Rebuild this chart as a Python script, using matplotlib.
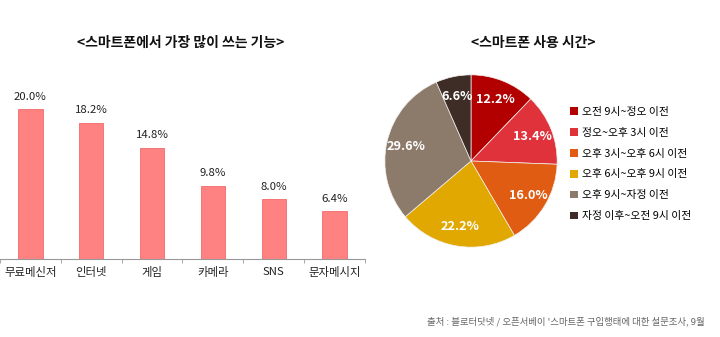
import matplotlib
matplotlib.use("Agg")
import matplotlib.pyplot as plt
from matplotlib.patches import Patch

plt.rcParams["font.family"] = ["Noto Sans CJK KR", "DejaVu Sans"]

# most used smartphone features (%)
features = ["무료메신저", "인터넷", "게임", "카메라", "SNS", "문자메시지"]
feature_share = [20.0, 18.2, 14.8, 9.8, 8.0, 6.4]

# smartphone usage time of day (%)
time_slots = [
    "오전 9시~정오 이전",
    "정오~오후 3시 이전",
    "오후 3시~오후 6시 이전",
    "오후 6시~오후 9시 이전",
    "오후 9시~자정 이전",
    "자정 이후~오전 9시 이전",
]
time_share = [12.2, 13.4, 16.0, 22.2, 29.6, 6.6]
time_colors = ["#B20000", "#E0323A", "#E05C12", "#E0A800", "#8C7B6B", "#3E2D27"]

W, H = 720, 337
fig = plt.figure(figsize=(W / 100, H / 100), dpi=100)


def px_axes(left, top, width, height):
    return fig.add_axes([left / W, 1 - (top + height) / H, width / W, height / H])


# bar chart
ax = px_axes(0, 71.5, 365, 187.5)
x = range(len(features))
ax.bar(x, feature_share, width=0.4, color="#FF8282", edgecolor="#F26B6B", linewidth=0.6)
for xi, v in zip(x, feature_share):
    ax.text(xi, v + 1.0, f"{v:.1f}%", ha="center", va="bottom", fontsize=8.2, color="#222222")
ax.set_xlim(-0.5, len(features) - 0.5)
ax.set_ylim(0, 25)
ax.set_yticks([])
for side in ("top", "left", "right"):
    ax.spines[side].set_visible(False)
ax.spines["bottom"].set_color("#999999")
ax.spines["bottom"].set_linewidth(0.8)
ax.set_xticks(list(x))
ax.set_xticklabels(features, fontsize=8.2, color="#222222")
ax.tick_params(axis="x", which="major", length=0, pad=6)
ax.set_xticks([i - 0.5 for i in range(len(features) + 1)], minor=True)
ax.tick_params(axis="x", which="minor", length=3, color="#999999", direction="out")
ax.patch.set_alpha(0)

fig.text(181 / W, 1 - 43 / H, "<스마트폰에서 가장 많이 쓰는 기능>", ha="center", va="center",
         fontsize=10, fontweight="bold", color="#111111")

# pie chart
pax = px_axes(384, 74, 174, 174)
wedges, _, autotexts = pax.pie(
    time_share, colors=time_colors, startangle=90, counterclock=False,
    autopct="%.1f%%", pctdistance=0.77, radius=1.0,
    wedgeprops=dict(linewidth=0.5, edgecolor="#F4F0EE"),
    textprops=dict(color="white", fontsize=9.2, fontweight="bold"),
)
pax.set_xlim(-1.01, 1.01)
pax.set_ylim(-1.01, 1.01)
pax.set_aspect("equal")

fig.text(533 / W, 1 - 43 / H, "<스마트폰 사용 시간>", ha="center", va="center",
         fontsize=10, fontweight="bold", color="#111111")

handles = [Patch(facecolor=c, edgecolor="none") for c in time_colors]
fig.legend(handles, time_slots, loc="upper left", bbox_to_anchor=(570 / W, 1 - 107 / H),
           frameon=False, fontsize=7.8, handlelength=0.7, handleheight=0.7,
           handletextpad=0.4, labelspacing=1.0, borderaxespad=0, borderpad=0)

fig.text(705 / W, 1 - 321 / H, "출처 : 블로터닷넷 / 오픈서베이 '스마트폰 구입행태에 대한 설문조사, 9월",
         ha="right", va="center", fontsize=6.8, color="#666666")

fig.savefig("out.png", dpi=100)
